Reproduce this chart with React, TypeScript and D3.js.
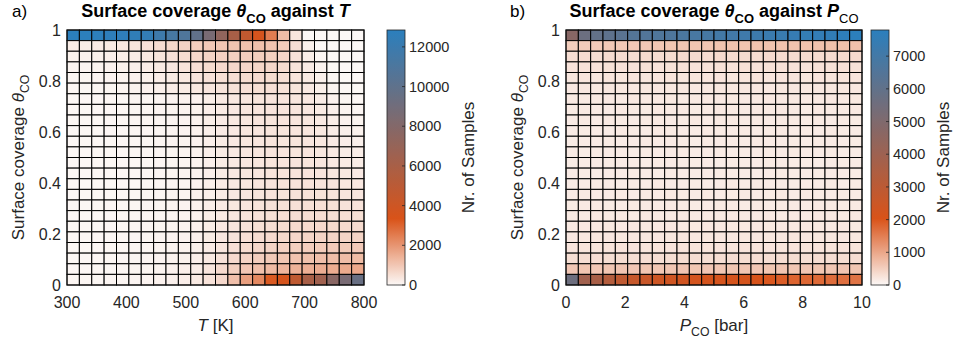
import React, { useEffect, useRef } from 'react';
import * as d3 from 'd3';

// axis ticks
const coverageTicks = [0, 0.2, 0.4, 0.6, 0.8, 1];
const temperatureTicks = [300, 400, 500, 600, 700, 800];
const pressureTicks = [0, 2, 4, 6, 8, 10];
const temperatureCountTicks = [0, 2000, 4000, 6000, 8000, 10000, 12000];
const pressureCountTicks = [0, 1000, 2000, 3000, 4000, 5000, 6000, 7000];

// colour limits of the two colorbars
const temperatureCountMax = 12850;
const pressureCountMax = 7800;

// sample counts, rows from theta = 1 (top) down to theta = 0, columns T = 300 -> 800 K
const countsVsTemperature = [
  [12850, 12800, 12750, 12700, 12650, 12550, 12400, 11800, 11300, 10900, 9900, 8600, 7300, 6000, 4650, 3550, 2500, 1200, 380, 0, 0, 0, 0, 0],
  [220, 240, 260, 290, 330, 390, 460, 560, 660, 760, 860, 950, 1010, 1060, 1100, 1120, 1060, 900, 520, 160, 0, 0, 0, 0],
  [130, 140, 160, 180, 210, 250, 310, 390, 460, 560, 650, 720, 780, 820, 850, 860, 810, 700, 460, 210, 40, 0, 0, 0],
  [90, 95, 110, 125, 145, 175, 220, 280, 340, 420, 500, 570, 620, 660, 680, 690, 660, 590, 430, 260, 100, 10, 0, 0],
  [60, 70, 80, 95, 110, 135, 170, 220, 270, 330, 400, 460, 510, 550, 570, 580, 570, 530, 410, 290, 160, 50, 10, 0],
  [45, 50, 60, 70, 85, 105, 135, 175, 220, 270, 330, 380, 430, 470, 500, 510, 500, 470, 390, 300, 190, 90, 30, 10],
  [30, 32, 36, 42, 48, 56, 66, 80, 96, 115, 140, 210, 280, 330, 370, 390, 400, 395, 370, 320, 240, 140, 70, 30],
  [26, 28, 32, 37, 43, 50, 60, 72, 88, 106, 130, 200, 270, 320, 360, 380, 395, 395, 375, 335, 265, 175, 100, 55],
  [24, 26, 30, 34, 40, 46, 55, 66, 80, 98, 122, 192, 262, 312, 352, 375, 392, 395, 380, 345, 290, 210, 140, 90],
  [22, 24, 28, 32, 37, 43, 51, 62, 75, 92, 116, 186, 256, 306, 346, 370, 388, 394, 384, 358, 312, 245, 180, 130],
  [20, 23, 26, 30, 35, 41, 49, 59, 72, 88, 112, 182, 252, 302, 342, 366, 386, 394, 388, 368, 330, 275, 215, 170],
  [20, 22, 25, 29, 34, 40, 48, 58, 70, 86, 110, 180, 250, 300, 340, 365, 385, 395, 392, 378, 348, 300, 248, 205],
  [19, 22, 25, 29, 34, 40, 48, 58, 70, 86, 110, 180, 250, 300, 340, 365, 386, 398, 398, 388, 365, 325, 280, 240],
  [19, 22, 25, 29, 34, 40, 48, 58, 70, 86, 110, 180, 250, 302, 342, 368, 390, 404, 406, 400, 382, 350, 310, 275],
  [20, 22, 25, 29, 34, 40, 48, 58, 71, 87, 112, 182, 254, 306, 348, 376, 400, 416, 420, 418, 404, 378, 345, 315],
  [20, 23, 26, 30, 35, 41, 49, 60, 73, 90, 115, 188, 262, 316, 360, 390, 416, 434, 442, 444, 434, 412, 384, 358],
  [21, 24, 27, 31, 36, 42, 51, 62, 76, 94, 120, 196, 274, 330, 378, 412, 442, 464, 476, 482, 478, 462, 440, 418],
  [22, 25, 28, 32, 38, 44, 53, 65, 80, 99, 128, 208, 292, 352, 404, 444, 478, 506, 524, 536, 538, 528, 512, 494],
  [23, 26, 30, 34, 40, 47, 57, 70, 86, 106, 138, 226, 318, 384, 444, 492, 534, 568, 592, 610, 618, 616, 606, 594],
  [25, 28, 32, 37, 43, 51, 62, 76, 94, 116, 152, 250, 355, 430, 500, 558, 608, 650, 682, 706, 722, 730, 732, 732],
  [27, 30, 34, 40, 47, 56, 68, 84, 104, 130, 172, 260, 380, 500, 590, 665, 730, 785, 828, 862, 888, 906, 918, 926],
  [30, 33, 38, 44, 52, 62, 76, 94, 118, 150, 200, 300, 460, 620, 740, 845, 935, 1010, 1070, 1115, 1150, 1178, 1200, 1218],
  [33, 37, 42, 49, 58, 70, 86, 108, 138, 178, 240, 380, 600, 820, 990, 1140, 1260, 1350, 1420, 1470, 1510, 1545, 1580, 1620],
  [40, 44, 50, 58, 68, 80, 98, 122, 156, 200, 280, 420, 640, 1150, 1800, 2250, 3200, 3550, 4750, 6000, 6450, 7700, 8600, 9500],
];

// sample counts, rows from theta = 1 (top) down to theta = 0, columns P_CO = 0 -> 10 bar
const countsVsPressure = [
  [4700, 5650, 5950, 6100, 6250, 6450, 6500, 6600, 6650, 6750, 6850, 6900, 7000, 7050, 7150, 7200, 7300, 7350, 7450, 7500, 7550, 7600, 7700, 7780],
  [520, 545, 560, 575, 580, 590, 600, 605, 620, 615, 630, 625, 640, 650, 645, 655, 650, 660, 665, 660, 670, 680, 675, 690],
  [330, 340, 320, 350, 345, 335, 360, 350, 345, 365, 355, 340, 370, 360, 355, 350, 365, 360, 350, 370, 360, 355, 365, 375],
  [260, 270, 255, 275, 265, 270, 280, 260, 275, 285, 270, 265, 280, 275, 290, 270, 280, 285, 275, 270, 285, 280, 290, 285],
  [220, 230, 215, 235, 225, 240, 220, 230, 245, 225, 235, 230, 240, 225, 235, 245, 230, 240, 235, 225, 240, 235, 245, 240],
  [195, 205, 190, 210, 200, 195, 215, 205, 200, 210, 195, 205, 215, 200, 210, 205, 195, 215, 210, 200, 205, 215, 210, 205],
  [180, 175, 190, 185, 170, 195, 180, 185, 190, 175, 185, 195, 180, 190, 175, 185, 195, 180, 190, 185, 180, 195, 185, 190],
  [165, 175, 170, 160, 180, 175, 165, 180, 170, 185, 165, 175, 180, 170, 165, 180, 175, 185, 170, 165, 180, 175, 170, 180],
  [160, 170, 155, 175, 165, 160, 175, 170, 160, 165, 180, 160, 170, 175, 165, 170, 160, 175, 170, 165, 175, 160, 170, 165],
  [155, 165, 160, 150, 170, 165, 155, 170, 165, 160, 155, 170, 165, 155, 175, 160, 165, 170, 155, 165, 160, 170, 165, 160],
  [150, 160, 155, 165, 150, 160, 170, 155, 160, 165, 150, 165, 160, 155, 160, 170, 155, 160, 165, 150, 165, 160, 155, 165],
  [155, 150, 165, 155, 160, 150, 165, 160, 155, 170, 160, 155, 165, 150, 160, 155, 165, 160, 170, 155, 160, 165, 150, 160],
  [150, 160, 155, 165, 160, 155, 150, 165, 160, 155, 165, 160, 150, 165, 155, 160, 165, 155, 160, 165, 150, 160, 165, 155],
  [155, 165, 150, 160, 155, 165, 160, 150, 165, 160, 155, 160, 165, 155, 160, 150, 160, 165, 155, 160, 165, 155, 160, 150],
  [160, 155, 165, 160, 150, 165, 155, 170, 160, 155, 165, 150, 160, 170, 155, 165, 160, 155, 165, 160, 155, 170, 160, 165],
  [160, 170, 160, 155, 170, 160, 165, 160, 175, 165, 160, 170, 155, 165, 170, 160, 165, 170, 160, 175, 165, 160, 170, 165],
  [165, 175, 170, 165, 160, 175, 170, 165, 175, 170, 165, 160, 175, 170, 165, 175, 160, 170, 175, 165, 170, 175, 165, 170],
  [175, 170, 180, 175, 185, 170, 180, 175, 170, 185, 180, 175, 170, 180, 185, 175, 180, 170, 185, 175, 180, 185, 175, 180],
  [185, 195, 180, 190, 185, 195, 190, 180, 195, 185, 190, 195, 180, 190, 185, 195, 190, 185, 180, 195, 190, 185, 195, 190],
  [205, 200, 215, 205, 210, 200, 215, 205, 210, 220, 205, 210, 200, 215, 210, 205, 215, 210, 220, 205, 215, 210, 205, 215],
  [240, 250, 235, 245, 255, 240, 250, 245, 240, 255, 250, 245, 240, 250, 255, 245, 240, 250, 255, 245, 250, 245, 255, 250],
  [320, 330, 315, 325, 335, 320, 330, 325, 320, 335, 330, 325, 320, 330, 335, 325, 320, 330, 335, 325, 330, 325, 335, 330],
  [610, 620, 600, 615, 625, 610, 620, 605, 615, 625, 620, 610, 605, 620, 615, 610, 620, 625, 615, 610, 620, 615, 625, 620],
  [5600, 3900, 3650, 3300, 2900, 2650, 2600, 2420, 2350, 2300, 2200, 2180, 2160, 2150, 2150, 2080, 1980, 1900, 1820, 1780, 1750, 1720, 1680, 1620],
];

const FONT = "'Liberation Sans', Arial, Helvetica, sans-serif";
const INK = '#262626';
// white -> orange -> blue, orange sits about a quarter of the way up
const colorStops = ['#fcf8f6', '#d95319', '#2b7fbd'];
const orangeAt = 0.26;

type Part = { text: string; italic?: boolean; sub?: boolean; normal?: boolean };

function richText(sel: any, parts: Part[], size: number) {
  let down = false;
  parts.forEach(p => {
    const ts = sel.append('tspan').text(p.text);
    if (p.italic) ts.style('font-style', 'italic');
    if (p.normal) ts.style('font-weight', 'normal');
    if (p.sub) {
      ts.style('font-size', `${size * 0.72}px`);
      if (!down) { ts.attr('dy', size * 0.32); down = true; }
    } else if (down) {
      ts.attr('dy', -size * 0.32);
      down = false;
    }
  });
}

function drawPanel(svg: any, p: any) {
  const x = d3.scaleLinear().domain(p.xDomain).range([p.left, p.right]);
  const y = d3.scaleLinear().domain([0, 1]).range([p.bottom, p.top]);
  const color = d3.scaleLinear<string>()
    .domain([0, orangeAt * p.max, p.max])
    .range(colorStops)
    .interpolate(d3.interpolateRgb)
    .clamp(true);

  const nRows = p.counts.length;
  const nCols = p.counts[0].length;
  const dx = (p.xDomain[1] - p.xDomain[0]) / nCols;
  const dy = 1 / nRows;

  const cells = svg.append('g');
  p.counts.forEach((row: number[], ri: number) => {
    const yHi = 1 - ri * dy;
    const yLo = yHi - dy;
    row.forEach((v, ci) => {
      const x0 = p.xDomain[0] + ci * dx;
      cells.append('rect')
        .attr('x', x(x0))
        .attr('y', y(yHi))
        .attr('width', x(x0 + dx) - x(x0))
        .attr('height', y(yLo) - y(yHi))
        .attr('fill', color(v))
        .attr('stroke', '#000')
        .attr('stroke-width', 1);
    });
  });

  // axes box
  svg.append('rect')
    .attr('x', p.left).attr('y', p.top)
    .attr('width', p.right - p.left).attr('height', p.bottom - p.top)
    .attr('fill', 'none').attr('stroke', '#111').attr('stroke-width', 1);

  // tick labels
  svg.append('g').selectAll('text')
    .data(p.xTicks).enter().append('text')
    .attr('x', (d: number) => x(d))
    .attr('y', p.bottom + 23)
    .attr('text-anchor', 'middle')
    .style('font-size', '16px').attr('fill', INK)
    .text((d: number) => d);

  svg.append('g').selectAll('text')
    .data(coverageTicks).enter().append('text')
    .attr('x', p.left - 6)
    .attr('y', (d: number) => y(d) + 5.5)
    .attr('text-anchor', 'end')
    .style('font-size', '16px').attr('fill', INK)
    .text((d: number) => d);

  // axis labels
  const xl = svg.append('text')
    .attr('x', (p.left + p.right) / 2).attr('y', 331)
    .attr('text-anchor', 'middle').style('font-size', '17px').attr('fill', INK);
  richText(xl, p.xLabel, 17);

  const yl = svg.append('text')
    .attr('transform', `translate(${p.left - 43}, ${(p.top + p.bottom) / 2}) rotate(-90)`)
    .attr('text-anchor', 'middle').style('font-size', '17px').attr('fill', INK);
  richText(yl, [{ text: 'Surface coverage ' }, { text: 'θ', italic: true }, { text: 'CO', sub: true }], 17);

  // title and panel letter
  const title = svg.append('text')
    .attr('x', (p.left + p.right) / 2).attr('y', 17)
    .attr('text-anchor', 'middle').style('font-size', '18px')
    .style('font-weight', 'bold').attr('fill', '#000');
  richText(title, p.title, 18);

  svg.append('text')
    .attr('x', p.letterX).attr('y', 17)
    .style('font-size', '17px').attr('fill', '#000')
    .text(p.letter);

  // colorbar
  const cb = d3.scaleLinear().domain([0, p.max]).range([p.bottom, p.top]);
  const gradId = `grad-${p.letter[0]}`;
  const grad = svg.append('defs').append('linearGradient')
    .attr('id', gradId).attr('x1', 0).attr('y1', 1).attr('x2', 0).attr('y2', 0);
  d3.range(0, 1.0001, 0.02).forEach(t => {
    grad.append('stop').attr('offset', t).attr('stop-color', color(t * p.max));
  });
  svg.append('rect')
    .attr('x', p.cbarX).attr('y', p.top)
    .attr('width', p.cbarW).attr('height', p.bottom - p.top)
    .attr('fill', `url(#${gradId})`)
    .attr('stroke', INK).attr('stroke-width', 0.8);

  const cbTicks = svg.append('g');
  p.cbarTicks.forEach((t: number) => {
    cbTicks.append('line')
      .attr('x1', p.cbarX + p.cbarW - 3).attr('x2', p.cbarX + p.cbarW)
      .attr('y1', cb(t)).attr('y2', cb(t))
      .attr('stroke', INK).attr('stroke-width', 0.8);
    cbTicks.append('text')
      .attr('x', p.cbarX + p.cbarW + 4)
      .attr('y', cb(t) + 5)
      .style('font-size', '14.5px').attr('fill', INK)
      .text(t);
  });

  svg.append('text')
    .attr('transform', `translate(${p.cbarLabelX}, ${(p.top + p.bottom) / 2}) rotate(-90)`)
    .attr('text-anchor', 'middle')
    .style('font-size', '17px').attr('fill', INK)
    .text('Nr. of Samples');
}

const App = () => {
  const svgRef = useRef<SVGSVGElement>(null);

  useEffect(() => {
    const svg = d3.select(svgRef.current);
    svg.selectAll('*').remove();
    svg.style('font-family', FONT);

    drawPanel(svg, {
      counts: countsVsTemperature,
      max: temperatureCountMax,
      xDomain: [300, 800],
      xTicks: temperatureTicks,
      cbarTicks: temperatureCountTicks,
      left: 67, right: 364, top: 30, bottom: 285,
      cbarX: 387, cbarW: 18, cbarLabelX: 474,
      letter: 'a)', letterX: 12,
      title: [{ text: 'Surface coverage ' }, { text: 'θ', italic: true }, { text: 'CO', sub: true }, { text: ' against ' }, { text: 'T', italic: true }],
      xLabel: [{ text: 'T', italic: true }, { text: ' [K]' }],
    });

    drawPanel(svg, {
      counts: countsVsPressure,
      max: pressureCountMax,
      xDomain: [0, 10],
      xTicks: pressureTicks,
      cbarTicks: pressureCountTicks,
      left: 566, right: 862, top: 30, bottom: 285,
      cbarX: 871, cbarW: 18, cbarLabelX: 949,
      letter: 'b)', letterX: 510,
      title: [{ text: 'Surface coverage ' }, { text: 'θ', italic: true }, { text: 'CO', sub: true }, { text: ' against ' }, { text: 'P', italic: true }, { text: 'CO', sub: true, normal: true }],
      xLabel: [{ text: 'P', italic: true }, { text: 'CO', sub: true }, { text: ' [bar]' }],
    });
  }, []);

  return (
    <svg
      ref={svgRef}
      width={953}
      height={343}
      style={{ position: 'absolute', left: 0, top: 0, background: '#fff' }}
    />
  );
};

export default App;
